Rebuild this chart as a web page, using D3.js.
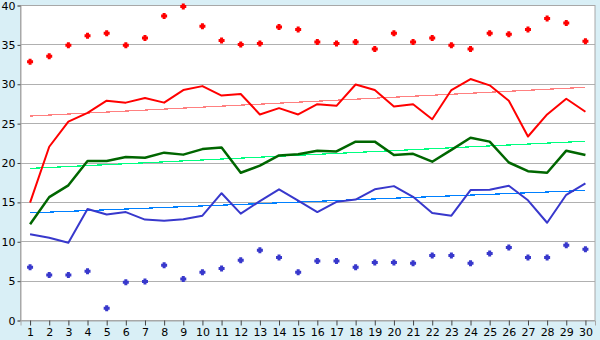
<!DOCTYPE html>
<html>
<head>
<meta charset="utf-8">
<script src="https://cdn.jsdelivr.net/npm/d3@7"></script>
<style>
  body { margin: 0; background: #d9eff6; }
  svg { display: block; }
  text { font-family: "DejaVu Sans", sans-serif; font-size: 11px; fill: #000; }
</style>
</head>
<body>
<svg></svg>
<script>
var width = 600;
var height = 340;

// days of month
var days = d3.range(1, 31);
// absolute max / min (diamonds)
var absMax = [32.8, 33.5, 34.9, 36.1, 36.4, 34.9, 35.8, 38.6, 39.8, 37.3,
  35.5, 35.0, 35.1, 37.2, 36.9, 35.3, 35.1, 35.3, 34.4, 36.4,
  35.3, 35.8, 34.9, 34.4, 36.4, 36.3, 36.9, 38.3, 37.7, 35.4];
var absMin = [6.7, 5.7, 5.7, 6.2, 1.5, 4.8, 4.9, 6.95, 5.2, 6.05,
  6.55, 7.6, 8.85, 7.95, 6.05, 7.5, 7.5, 6.7, 7.3, 7.3,
  7.2, 8.2, 8.2, 7.2, 8.45, 9.2, 7.95, 7.95, 9.5, 9.0];
// average max / mean / average min
var avgMax = [14.9, 22.0, 25.2, 26.3, 27.85, 27.6, 28.2, 27.6, 29.2, 29.7,
  28.5, 28.7, 26.1, 26.9, 26.1, 27.4, 27.2, 29.9, 29.2, 27.1,
  27.4, 25.5, 29.2, 30.6, 29.8, 27.85, 23.3, 26.1, 28.1, 26.45];
var avgMean = [12.15, 15.6, 17.1, 20.2, 20.2, 20.7, 20.6, 21.25, 21.0, 21.7,
  21.9, 18.7, 19.6, 20.9, 21.05, 21.5, 21.4, 22.65, 22.65, 20.95,
  21.1, 20.1, 21.6, 23.15, 22.65, 20.0, 18.9, 18.7, 21.5, 20.95];
var avgMin = [10.9, 10.45, 9.8, 14.1, 13.4, 13.7, 12.75, 12.6, 12.8, 13.25,
  16.1, 13.5, 15.1, 16.6, 15.15, 13.7, 15.0, 15.3, 16.6, 17.0,
  15.65, 13.6, 13.25, 16.5, 16.55, 17.05, 15.2, 12.35, 15.9, 17.35];
// trend lines: [value at day 1, value at day 30]
var trendMax = [25.9, 29.55];
var trendMean = [19.25, 22.7];
var trendMin = [13.6, 16.45];
var yTicks = [0, 5, 10, 15, 20, 25, 30, 35, 40];

var plotLeft = 20.5, plotRight = 595, plotTop = 5, plotBottom = 320;

var svg = d3.select("svg").attr("width", width).attr("height", height);

var x = d3.scalePoint().domain(days).range([plotLeft, plotRight]).padding(0.5);
var y = d3.scaleLinear().domain([0, 40]).range([plotBottom, plotTop]);

// plot background
svg.append("rect")
  .attr("x", plotLeft).attr("y", plotTop)
  .attr("width", plotRight - plotLeft).attr("height", plotBottom - plotTop)
  .attr("fill", "#fff");

// gridlines
svg.append("g").selectAll("line")
  .data(yTicks.slice(1, -1)).enter().append("line")
  .attr("x1", plotLeft).attr("x2", plotRight)
  .attr("y1", function (d) { return Math.round(y(d)) + 0.5; })
  .attr("y2", function (d) { return Math.round(y(d)) + 0.5; })
  .attr("stroke", "#b0b0b0");

// plot border
svg.append("rect")
  .attr("x", plotLeft).attr("y", plotTop + 0.5)
  .attr("width", plotRight - plotLeft).attr("height", plotBottom - plotTop)
  .attr("fill", "none").attr("stroke", "#a8a8a8");

// axes
var yAxis = svg.append("g")
  .attr("transform", "translate(" + plotLeft + ",0.5)")
  .call(d3.axisLeft(y).tickValues(yTicks).tickSize(3).tickPadding(2));
var xAxis = svg.append("g")
  .attr("transform", "translate(0," + (plotBottom + 0.5) + ")")
  .call(d3.axisBottom(x).tickSize(5).tickPadding(3));
[yAxis, xAxis].forEach(function (a) {
  a.select(".domain").attr("stroke", "#a8a8a8");
  a.selectAll(".tick line").attr("stroke", "#444");
  a.selectAll("text").attr("font-family", "DejaVu Sans").attr("font-size", 11).attr("fill", "#000");
});

function trend(vals, color) {
  svg.append("line")
    .attr("x1", x(1)).attr("x2", x(30))
    .attr("y1", y(vals[0])).attr("y2", y(vals[1]))
    .attr("stroke", color).attr("stroke-width", 1.2)
    .attr("shape-rendering", "crispEdges");
}
trend(trendMax, "#ff8080");
trend(trendMean, "#00ff80");
trend(trendMin, "#0080ff");

var line = d3.line()
  .x(function (d, i) { return x(days[i]); })
  .y(function (d) { return y(d); });

function series(vals, color, w) {
  svg.append("path").datum(vals)
    .attr("d", line)
    .attr("fill", "none")
    .attr("stroke", color).attr("stroke-width", w)
    .attr("stroke-linejoin", "round");
}
series(avgMin, "#3838cc", 2);
series(avgMean, "#006600", 2.5);
series(avgMax, "#ff0000", 2);

// small plus-shaped marker
var marker = "M-1.5,-3H1.5V-1.5H3V1.5H1.5V3H-1.5V1.5H-3V-1.5H-1.5Z";
function points(vals, color) {
  svg.append("g").selectAll("path")
    .data(vals).enter().append("path")
    .attr("d", marker)
    .attr("transform", function (d, i) { return "translate(" + x(days[i]) + "," + y(d) + ")"; })
    .attr("fill", color);
}
points(absMax, "#ff0000");
points(absMin, "#3838cc");
</script>
</body>
</html>
